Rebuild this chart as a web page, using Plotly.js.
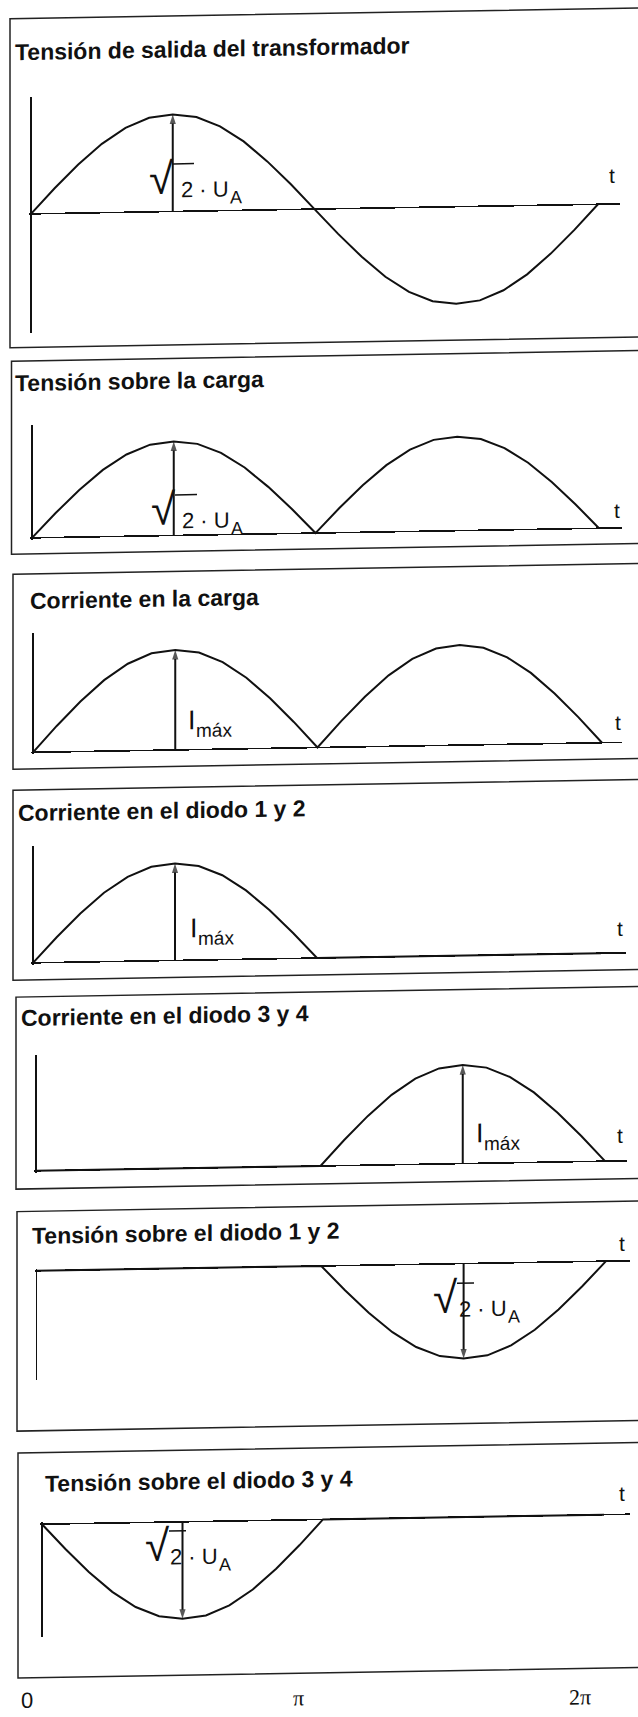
<!DOCTYPE html>
<html>
<head>
<meta charset="utf-8">
<script src="https://cdn.plot.ly/plotly-3.0.1.min.js"></script>
<style>
  html, body { margin: 0; padding: 0; background: #fff; }
  /* the printed sheet sits very slightly tilted */
  #fig { width: 638px; height: 1717px; transform: skewY(-0.97deg); transform-origin: 50% 50%; }
</style>
</head>
<body>
<div id="fig"></div>
<script>
// ---- data ---------------------------------------------------------------
// Phase over one period of the mains voltage, in degrees
const phaseDeg = [0, 15, 30, 45, 60, 75, 90, 105, 120, 135, 150, 165, 180,
                  195, 210, 225, 240, 255, 270, 285, 300, 315, 330, 345, 360];
// Transformer output voltage, in units of its peak √2·U_A
const vSecondary = [0, 0.26, 0.50, 0.71, 0.87, 0.97, 1.00, 0.97, 0.87, 0.71, 0.50, 0.26, 0,
                    -0.26, -0.50, -0.71, -0.87, -0.97, -1.00, -0.97, -0.87, -0.71, -0.50, -0.26, 0];

// Bridge rectifier waveforms obtained from the secondary voltage
const vLoad = vSecondary.map(v => Math.abs(v));      // voltage across the load
const iLoad = vSecondary.map(v => Math.abs(v));      // load current (units of I_máx)
const iD12  = vSecondary.map(v => Math.max(v, 0));   // current in diodes 1 and 2
const iD34  = vSecondary.map(v => Math.max(-v, 0));  // current in diodes 3 and 4
const vD12  = vSecondary.map(v => Math.min(v, 0));   // voltage across diodes 1 and 2
const vD34  = vSecondary.map(v => Math.min(-v, 0));  // voltage across diodes 3 and 4

const panelTitles = [
  'Tensión de salida del transformador',
  'Tensión sobre la carga',
  'Corriente en la carga',
  'Corriente en el diodo 1 y 2',
  'Corriente en el diodo 3 y 4',
  'Tensión sobre el diodo 1 y 2',
  'Tensión sobre el diodo 3 y 4'
];
const panelSeries = [vSecondary, vLoad, iLoad, iD12, iD34, vD12, vD34];
const arrowPhase  = [90, 90, 90, 90, 270, 270, 90];   // where the peak arrow is drawn
// peak labels: √2 · U_A for voltages, I_máx for currents
const peakKind    = ['root', 'root', 'imax', 'imax', 'imax', 'root', 'root'];
const rootText    = ['√', '2 · U', 'A'];
const imaxText    = ['I', 'máx'];
const timeLabel   = 't';
const phaseTicks  = ['0', 'π', '2π'];

// ---- page geometry (pixels) ------------------------------------------------
const W = 638, H = 1717, EDGE = 2;
// x0 / x2pi: where phase 0 and 2π fall; xEnd: end of the time axis;
// top/bottom: extent of the vertical axis; zero: level of the time axis; amp: peak height
// root label: xr = top of the radical, x2 = start of "2", base = baseline
// current label: x = start of "I", base = baseline
const geom = [
  { x0: 31,   x2pi: 598, xEnd: 620, top: 92,   zero: 209,    bottom: 328,  amp: 97,
    box: [10, 13.5, 342.5],  title: [13, 46.7],   t: [612, 180],
    lab: { xr: 174, x2: 179, base: 195, barEnd: 194 } },
  { x0: 32,   x2pi: 599, xEnd: 622, top: 420,  zero: 533,    bottom: 533,  amp: 94,
    box: [11.5, 356, 549],   title: [13, 378],    t: [617, 515.5],
    lab: { xr: 176, x2: 180, base: 526, barEnd: 197 } },
  { x0: 33,   x2pi: 602, xEnd: 622, top: 628,  zero: 747.5,  bottom: 747.5, amp: 100,
    box: [13, 569, 764],     title: [28, 595.5],  t: [618, 727.5],
    lab: { x: 186, base: 727 } },
  { x0: 33,   x2pi: 601, xEnd: 626, top: 841,  zero: 958,    bottom: 958,  amp: 97,
    box: [13, 785, 975],     title: [16, 808.4],  t: [620, 933.5],
    lab: { x: 188, base: 935 } },
  { x0: 36,   x2pi: 605, xEnd: 627, top: 1050, zero: 1166,   bottom: 1166, amp: 98.5,
    box: [16, 992, 1184],    title: [19, 1013],   t: [620, 1140],
    lab: { x: 474, base: 1145 } },
  { x0: 36.5, x2pi: 606, xEnd: 630, top: 1266, zero: 1266,   bottom: 1375, amp: 95,
    box: [17, 1206.5, 1426], title: [30, 1230.7], t: [622, 1248.5],
    lab: { xr: 458, x2: 457, base: 1319, barEnd: 474 } },
  { x0: 42,   x2pi: 604, xEnd: 630, top: 1519.5, zero: 1519.5, bottom: 1632, amp: 97,
    box: [18, 1448, 1673],   title: [42.5, 1479], t: [622, 1498.5],
    lab: { xr: 170, x2: 168, base: 1562, barEnd: 186 } }
];
const phaseTickPos = [[27, 1695], [298, 1697], [580, 1701.5]];

// ---- figure ----------------------------------------------------------------
const INK = '#111';
const SANS = 'Liberation Sans, Arial, sans-serif';
const SERIF = 'Liberation Serif, Times New Roman, serif';
const rad = phaseDeg.map(d => d * Math.PI / 180);
const px = x => x / W;
const py = y => 1 - y / H;

const traces = [];
const layout = {
  width: W, height: H,
  margin: { l: 0, r: 0, t: 0, b: 0 },
  paper_bgcolor: '#fff', plot_bgcolor: 'rgba(0,0,0,0)',
  showlegend: false,
  annotations: [], shapes: []
};
const hidden = {
  showgrid: false, showticklabels: false, ticks: '', showline: false,
  zeroline: true, zerolinecolor: INK, zerolinewidth: 1.6, fixedrange: true
};

// text placed by its baseline (Liberation Sans box middle sits 0.3465 em above it)
function textAt(text, x, base, size, opts) {
  return Object.assign({
    xref: 'paper', yref: 'paper', x: px(x), y: py(base - 0.3465 * size),
    xanchor: 'left', yanchor: 'middle', showarrow: false, text: text,
    font: { family: SANS, size: size, color: INK }
  }, opts || {});
}

geom.forEach((g, i) => {
  const n = i === 0 ? '' : String(i + 1);
  const xr = 'x' + n, yr = 'y' + n;
  const s = (g.x2pi - g.x0) / (2 * Math.PI);
  const yTop = Math.min(g.top, g.zero - EDGE);
  const yBot = Math.max(g.bottom, g.zero + EDGE);

  layout['xaxis' + n] = Object.assign({}, hidden, {
    domain: [px(g.x0 - EDGE), px(g.xEnd)],
    range: [-EDGE / s, (g.xEnd - g.x0) / s],
    anchor: yr
  });
  layout['yaxis' + n] = Object.assign({}, hidden, {
    domain: [py(yBot), py(yTop)],
    range: [(g.zero - yBot) / g.amp, (g.zero - yTop) / g.amp],
    anchor: xr
  });

  // waveform
  const ys = panelSeries[i];
  traces.push({
    type: 'scatter', mode: 'lines', x: rad, y: ys, xaxis: xr, yaxis: yr,
    line: { color: INK, width: 2 }, hoverinfo: 'skip', cliponaxis: false
  });

  // arrow from the time axis to the peak
  const k = phaseDeg.indexOf(arrowPhase[i]);
  traces.push({
    type: 'scatter', mode: 'lines+markers', x: [rad[k], rad[k]], y: [0, ys[k]],
    xaxis: xr, yaxis: yr, hoverinfo: 'skip', cliponaxis: false,
    line: { color: INK, width: 2 },
    marker: { symbol: 'arrow', size: [0, 10], angleref: 'previous', color: INK,
              line: { width: 0 } }
  });

  // frame around the panel (open on the right, runs off the sheet)
  layout.shapes.push({
    type: 'rect', xref: 'paper', yref: 'paper', layer: 'below',
    x0: px(g.box[0]), x1: 1.05, y0: py(g.box[2]), y1: py(g.box[1]),
    line: { color: '#222', width: 1.5 }
  });

  // panel title
  layout.annotations.push({
    xref: 'paper', yref: 'paper', x: px(g.title[0]), y: py(g.title[1]),
    xanchor: 'left', yanchor: 'middle', showarrow: false, text: panelTitles[i],
    font: { family: SANS, size: 23, color: INK, weight: 700 }
  });

  // time label
  layout.annotations.push({
    xref: 'paper', yref: 'paper', x: px(g.t[0]), y: py(g.t[1]),
    xanchor: 'center', yanchor: 'middle', showarrow: false, text: timeLabel,
    font: { family: SANS, size: 21, color: INK }
  });

  // peak value label
  const L = g.lab;
  if (peakKind[i] === 'root') {
    // radical sign, its bar, then "2 · U" with subscript A
    layout.annotations.push(textAt(rootText[0], L.xr + 2, L.base - 4, 44, { xanchor: 'right' }));
    layout.shapes.push({
      type: 'line', xref: 'paper', yref: 'paper',
      x0: px(L.xr - 1), x1: px(L.barEnd), y0: py(L.base - 33.5), y1: py(L.base - 33.5),
      line: { color: INK, width: 1.5 }
    });
    layout.annotations.push(textAt(rootText[1], L.x2, L.base, 22));
    layout.annotations.push(textAt(rootText[2], L.x2 + 49, L.base + 7, 18));
  } else {
    layout.annotations.push(textAt(imaxText[0], L.x, L.base, 27));
    layout.annotations.push(textAt(imaxText[1], L.x + 8, L.base + 8, 19));
  }
});

// phase marks under the last panel
phaseTicks.forEach((lbl, j) => {
  layout.annotations.push({
    xref: 'paper', yref: 'paper', x: px(phaseTickPos[j][0]), y: py(phaseTickPos[j][1]),
    xanchor: 'center', yanchor: 'middle', showarrow: false, text: lbl,
    font: { family: j === 0 ? SANS : SERIF, size: 22, color: INK }
  });
});

Plotly.newPlot('fig', traces, layout, { staticPlot: true, displayModeBar: false });
</script>
</body>
</html>
